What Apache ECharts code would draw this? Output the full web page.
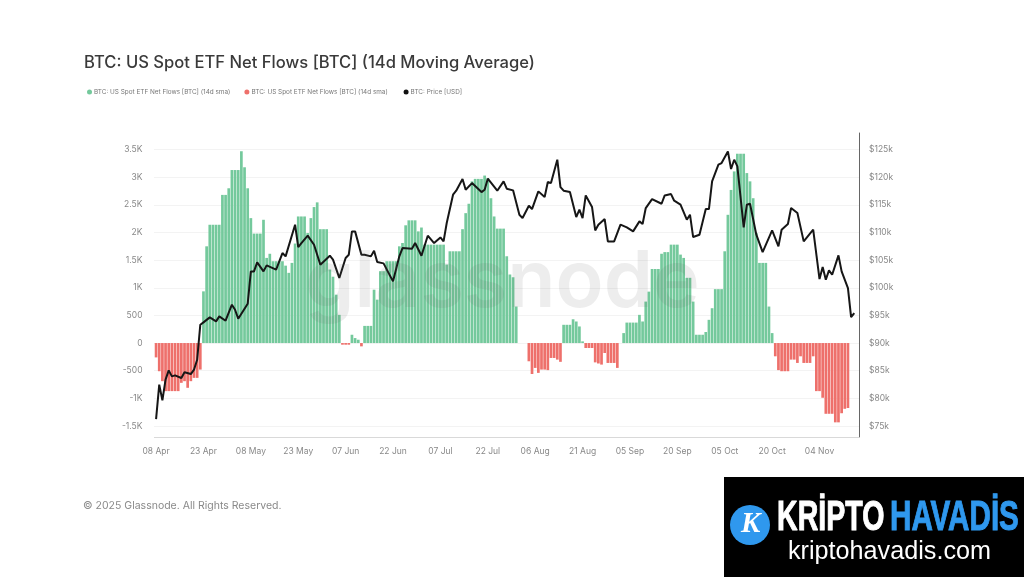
<!DOCTYPE html>
<html><head><meta charset="utf-8">
<script src="https://cdn.jsdelivr.net/npm/echarts@6/dist/echarts.min.js"></script>
<style>html,body{margin:0;padding:0;background:#fff}#c{width:1024px;height:577px;filter:blur(0.45px)}</style>
</head><body><div id="c"></div>
<script>
var flows=[-260,-510,-690,-870,-870,-870,-870,-870,-720,-690,-810,-690,-630,-630,-480,
935,1750,2140,2140,2140,2140,2680,2680,2800,3130,3130,3130,3470,3180,2800,2260,1980,1980,1980,2230,1540,1615,1480,1480,1480,1480,1400,
1270,1450,1800,2290,2290,2290,1990,2260,2460,2545,2060,2060,2060,1330,1200,875,510,-30,-30,-30,150,90,60,-60,310,310,310,965,785,
1300,1300,1480,1480,1480,1480,1750,1810,2130,2220,2220,2220,2020,2090,1780,1780,1780,1780,1780,1780,1780,1420,1660,1660,1660,1660,2060,2350,2520,2925,2970,2970,2970,3030,2985,2620,2290,2070,2070,2070,1570,1240,1190,660,
0,0,0,-330,-560,-450,-540,-480,-480,-490,-270,-270,-300,-340,330,330,330,430,390,300,30,-90,-90,-90,-350,-370,-390,-180,-360,-360,-360,-450,0,180,370,
370,370,370,510,390,750,930,1340,1340,1340,1615,1645,1645,1780,1780,1780,1600,1540,1180,1180,750,150,150,150,200,420,630,975,975,975,1660,2320,2770,3105,3425,3425,3425,3075,2925,2620,1990,1450,1450,1450,660,180,
-240,-490,-510,-510,-510,-300,-300,-360,-240,-360,-360,-360,-240,-870,-870,-990,-1280,-1280,-1280,-1435,-1435,-1270,-1190,-1175];
var priceDays=[0,1,2,3,4,5,6,8,9,11,12,13,14,15,17,19,20,22,24,25,26,29,30,31,32,34,35,38,40,41,44,45,46,48,50,52,55,56,58,60,61,62,63,65,66,68,69,70,72,75,77,78,81,82,84,86,88,90,91,92,94,95,97,98,100,103,104,105,108,110,111,113,115,116,118,119,121,123,124,125,127,128,129,131,133,134,135,136,138,139,140,142,143,145,147,149,151,153,154,155,157,160,161,163,164,166,168,169,170,172,174,175,176,178,179,181,182,183,184,186,187,188,190,192,195,197,198,200,201,203,205,208,210,211,212,213,214,216,217,219,220,221];
var priceValues=[76250,82460,79630,83370,85050,83970,84150,83670,84700,84390,85180,86980,93320,93740,94640,93920,94820,94040,96930,96030,94400,97110,102960,102960,104590,102960,104050,103270,106280,105680,111400,107370,108090,109420,107790,104170,105800,105080,101760,105380,105980,110200,110200,105980,105980,105680,106700,104650,104410,101160,105680,107190,107070,108090,105800,109420,108090,109110,108390,111710,116830,117560,119670,117740,118940,117310,117740,119730,117560,119250,117920,117620,113220,112610,114840,114240,117440,116410,119130,118940,123170,118220,117560,117320,112790,114120,112610,116710,114600,110380,111410,112430,108390,108390,111410,110920,110200,112010,111530,114420,116050,115200,116710,116950,115750,115030,112310,113220,109180,109600,114240,114240,119250,122260,122560,124670,121480,123170,121960,110920,115030,115200,109600,106460,110380,107490,110500,111530,114420,113520,108390,110500,101580,103750,101460,103140,102360,105860,102960,99950,94700,95430];
var leftTicks=[-1500,-1000,-500,0,500,1000,1500,2000,2500,3000,3500];
var rightTicks=[75000,80000,85000,90000,95000,100000,105000,110000,115000,120000,125000];
var titleText='BTC: US Spot ETF Net Flows [BTC] (14d Moving Average)';
var greenName='BTC: US Spot ETF Net Flows [BTC] (14d sma)';
var redName='BTC: US Spot ETF Net Flows [BTC] (14d sma) ';
var priceName='BTC: Price [USD]';
var months=['Jan','Feb','Mar','Apr','May','Jun','Jul','Aug','Sep','Oct','Nov','Dec'];
var categories=[];
for(var i=0;i<223;i++){var dt=new Date(Date.UTC(2025,3,8+i));categories.push(('0'+dt.getUTCDate()).slice(-2)+' '+months[dt.getUTCMonth()]);}
var chart=echarts.init(document.getElementById('c'),null,{renderer:'canvas'});
function kfmt(v){if(v===0)return '0';var a=Math.abs(v);return a>=1000?(v/1000)+'K':String(v);}
chart.setOption({
 animation:false,backgroundColor:'#fff',
 textStyle:{fontFamily:'Inter'},
 title:{text:titleText,left:84,top:54,padding:0,textStyle:{fontFamily:'Inter',fontSize:16.6,fontWeight:500,color:'#3a3a3a'}},
 legend:{left:87,top:89,padding:0,itemWidth:5,itemHeight:5,itemGap:14,icon:'circle',
  data:[greenName,redName,priceName],
  textStyle:{fontSize:6.4,color:'#777',padding:[0,0,0,-3]}},
 grid:{left:154.5,right:165,top:133,bottom:140},
 xAxis:{type:'category',data:categories,boundaryGap:true,
  axisLine:{onZero:false,lineStyle:{color:'#d5d5d5',type:'dotted'}},
  axisTick:{interval:14,alignWithLabel:true,length:4,lineStyle:{color:'#ccc'}},
  axisLabel:{interval:14,color:'#888',fontSize:8.5,margin:10},splitLine:{show:false}},
 yAxis:[{type:'value',min:-1700,max:3800,
  axisLine:{show:false},axisTick:{show:false,customValues:leftTicks},
  axisLabel:{customValues:leftTicks,color:'#888',fontSize:8.5,margin:12,padding:[2,0,0,0],formatter:kfmt},
  splitLine:{show:true,lineStyle:{color:'#e6e6e6',type:'dotted'}}},
 {type:'value',min:73000,max:128000,position:'right',
  axisLine:{show:true,lineStyle:{color:'#666',width:1}},axisTick:{show:false,customValues:rightTicks},
  axisLabel:{customValues:rightTicks,color:'#888',fontSize:8.5,margin:10,padding:[2,0,0,0],formatter:function(v){return '$'+(v/1000)+'k';}},
  splitLine:{show:false}}],
 series:[
 {name:greenName,type:'bar',barWidth:2.7,barGap:'-100%',itemStyle:{color:'#74c99c'},
  data:flows.map(function(v){return v>0?v:null;})},
 {name:redName,type:'bar',barWidth:2.7,barGap:'-100%',itemStyle:{color:'#ee706b'},
  data:flows.map(function(v){return v<0?v:null;})},
 {name:priceName,type:'line',yAxisIndex:1,showSymbol:false,symbol:'circle',itemStyle:{color:'#111'},
  lineStyle:{color:'#161616',width:2},z:5,
  data:priceDays.map(function(d,i){return [categories[d],priceValues[i]];})}
 ],
 graphic:[
 {type:'text',left:305,top:244,z:10,silent:true,style:{text:'glassnode',fontFamily:'Inter',fontSize:79,fontWeight:600,fill:'rgba(90,90,90,0.11)'}},
 {type:'text',left:83,top:500,style:{text:'© 2025 Glassnode. All Rights Reserved.',fontFamily:'Inter',fontSize:10.5,fill:'#8a8a8a'}},
 {type:'rect',shape:{x:724,y:477,width:300,height:100},style:{fill:'#000'},z:20},
 {type:'circle',shape:{cx:750,cy:525,r:20},style:{fill:'#2f98ee'},z:21},
 {type:'text',x:741,y:510,z:22,style:{text:'K',fontFamily:'Liberation Serif',fontSize:29,fontStyle:'italic',fontWeight:'bold',fill:'#fff'}},
 {type:'text',x:777,y:518,scaleX:0.68,z:22,style:{text:'KRİPTO',fontFamily:'Liberation Sans',fontSize:42,fontWeight:'bold',verticalAlign:'middle',fill:'#fff',stroke:'#fff',lineWidth:1}},
 {type:'text',x:890,y:518,scaleX:0.705,z:22,style:{text:'HAVADİS',fontFamily:'Liberation Sans',fontSize:42,fontWeight:'bold',verticalAlign:'middle',fill:'#2f98ee',stroke:'#2f98ee',lineWidth:1}},
 {type:'text',x:788,y:552,z:22,style:{text:'kriptohavadis.com',fontFamily:'Liberation Sans',fontSize:25.2,verticalAlign:'middle',fill:'#fff'}}
 ]
});
</script></body></html>
